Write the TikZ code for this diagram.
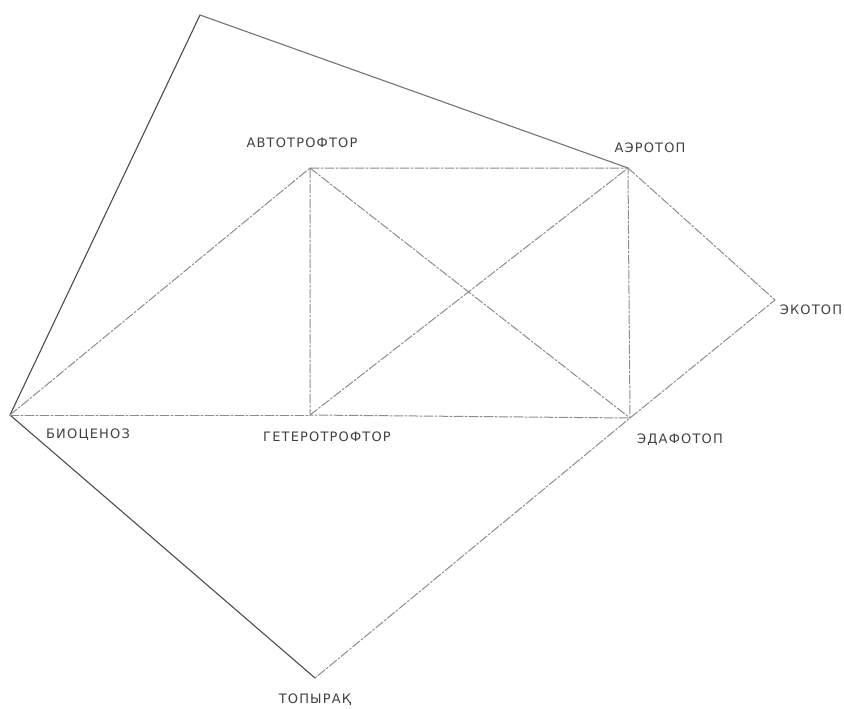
\documentclass[tikz,border=0pt]{standalone}
\usepackage{fontspec}
\newfontfamily\lblfont[LetterSpace=9]{DejaVu Sans}

\begin{document}
\begin{tikzpicture}[x=1pt, y=-1pt, line cap=round,
                    edge/.style={line width=1.1pt, draw=black!70},
                    faint/.style={line width=1pt, draw=black!45, dash pattern=on 9pt off 2pt on 2pt off 2pt},
                    lbl/.style={font=\fontsize{13}{13}\selectfont\lblfont, text=black!75, inner sep=0pt}]

% full canvas
\useasboundingbox (0,0) rectangle (844,709);

% ---- vertices ----
\coordinate (apex) at (200,15);
\coordinate (bio)  at (10,415);
\coordinate (auto) at (310,168);
\coordinate (aero) at (628,168);
\coordinate (eko)  at (775,300);
\coordinate (het)  at (310,415);
\coordinate (eda)  at (630,418);
\coordinate (top)  at (315,678);

% ---- outer frame ----
\draw[edge] (bio) -- (apex);
\draw[edge, draw=black!55] (apex) -- (aero);
\draw[edge] (bio) -- (top);
\draw[faint] (aero) -- (eko) -- (eda) -- (top);

% ---- inner rectangle and diagonals ----
\draw[faint] (bio) -- (auto);
\draw[faint] (auto) -- (aero) -- (eda) -- (het) -- cycle;
\draw[faint] (bio) -- (het);
\draw[faint] (auto) -- (eda)  (het) -- (aero);

% ---- labels ----
\node[lbl] (lauto) at (302,143) {АВТОТРОФТОР};
\node[lbl] (laero) at (650,148) {АЭРОТОП};
\node[lbl] (leko)  at (811,310) {ЭКОТОП};
\node[lbl] (lbio)  at (88,435)  {БИОЦЕНОЗ};
\node[lbl] (lhet)  at (327,437) {ГЕТЕРОТРОФТОР};
\node[lbl] (leda)  at (680,440) {ЭДАФОТОП};
\node[lbl] (ltop)  at (315,700) {ТОПЫРАҚ};

\end{tikzpicture}
\end{document}
